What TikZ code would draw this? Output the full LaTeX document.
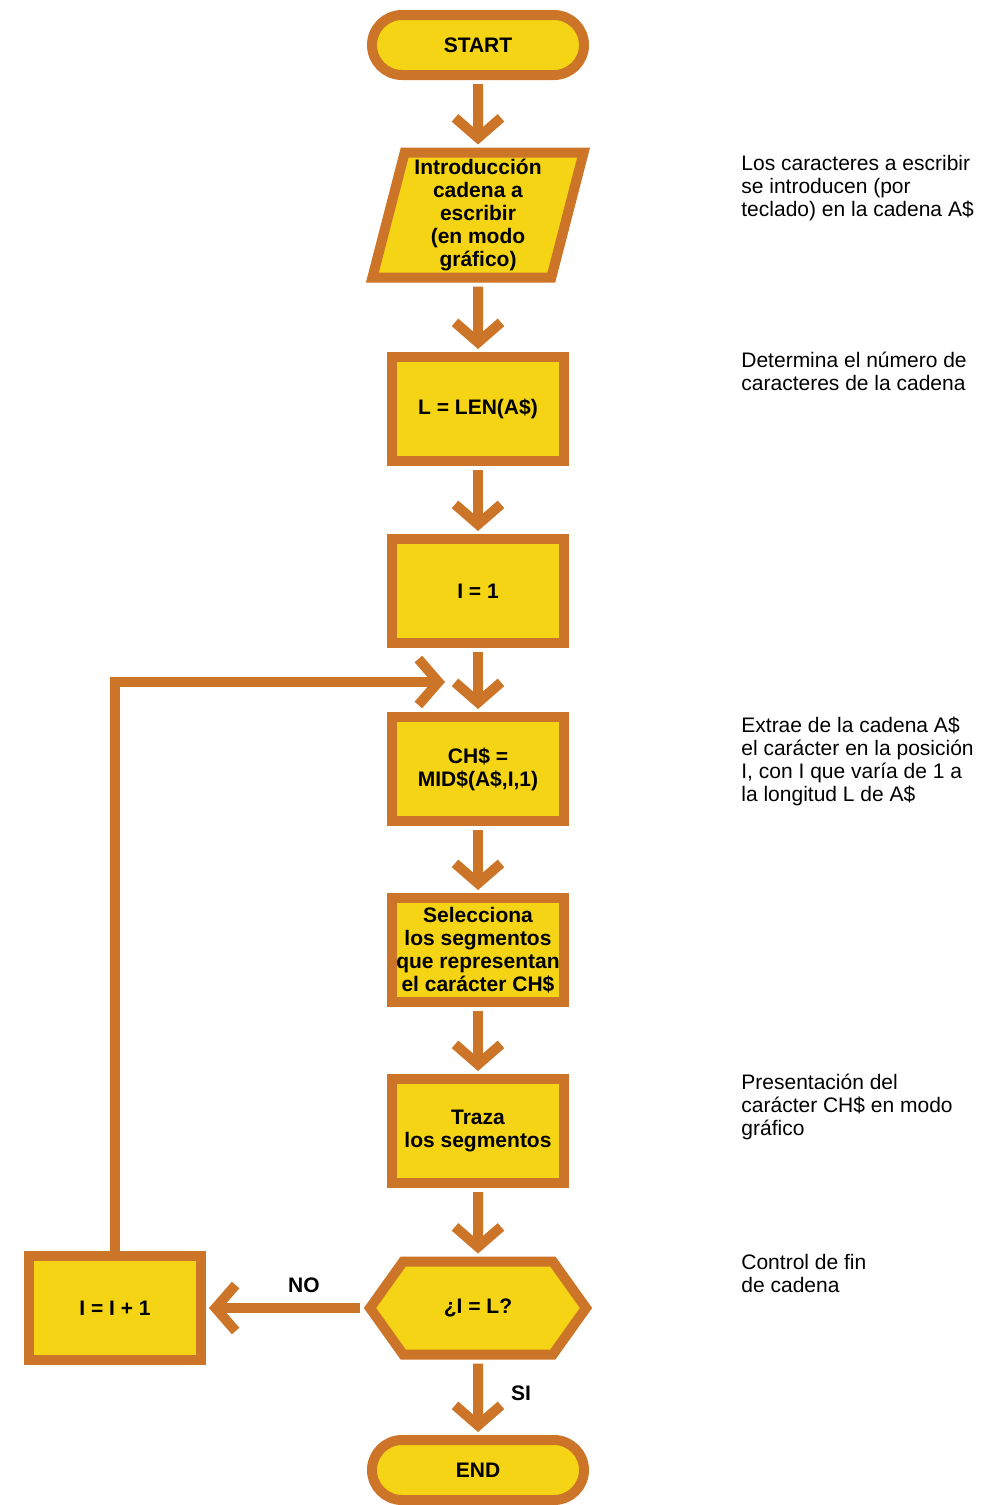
\documentclass[tikz,border=0pt]{standalone}
\usepackage{fontspec}
\setmainfont{Liberation Sans}
\usetikzlibrary{shapes.geometric, shapes.misc, shapes.symbols, arrows.meta, positioning}

\definecolor{boxfill}{RGB}{244,212,20}
\definecolor{boxline}{RGB}{204,116,40}

\begin{document}
\begin{tikzpicture}[
    x=0.5pt, y=-0.5pt,
    block/.style={rectangle, draw=boxline, line width=5pt, fill=boxfill, align=center, minimum width=86pt, minimum height=52pt, inner sep=1pt, font=\bfseries\fontsize{10.5}{11.5}\selectfont},
    term/.style={block, rounded rectangle, minimum width=108pt, minimum height=30pt},
    io/.style={block, trapezium, trapezium left angle=76, trapezium right angle=104, trapezium stretches=true, minimum width=106.5pt, minimum height=62.5pt},
    test/.style={block, signal, signal to=west and east, signal pointer angle=109, minimum width=108pt, minimum height=46.5pt},
    note/.style={anchor=north west, align=left, inner sep=0pt, font=\fontsize{10.5}{11.5}\selectfont},
    tag/.style={inner sep=0pt, font=\bfseries\fontsize{10.5}{11.5}\selectfont},
    line/.style={draw=boxline, line width=5pt, shorten <=2pt, shorten >=1.5pt, -{Straight Barb[length=10pt, width=23pt]}}
]
\useasboundingbox (0,0) rectangle (988,1505);

\node [term] (start) at (478,45) {START};
\node [io, below of=start, node distance=85pt] (input) {Introducción\\cadena a\\escribir\\(en modo\\gráfico)};
\node [block, below of=input, node distance=97pt] (len) {L = LEN(A\$)};
\node [block, below of=len, node distance=91pt] (init) {I = 1};
\node [block, below of=init, node distance=89pt] (extract) {CH\$ =\\MID\$(A\$,I,1)};
\node [block, below of=extract, node distance=90.5pt] (select) {Selecciona\\los segmentos\\que representan\\el carácter CH\$};
\node [block, below of=select, node distance=90.5pt] (trace) {Traza\\los segmentos};
\node [test, below of=trace, node distance=88.5pt] (check) {¿I = L?};
\node [term, below of=check, node distance=81pt] (finish) {END};
\node [block, left of=check, node distance=181.5pt] (incr) {I = I + 1};
\coordinate (loopin) at (448,682);

% comentarios a la derecha
\node [note] (noteinput) at (741,155) {Los caracteres a escribir\\se introducen (por\\teclado) en la cadena A\$};
\node [note] (notelen) at (741,352) {Determina el número de\\caracteres de la cadena};
\node [note] (noteextract) at (741,717) {Extrae de la cadena A\$\\el carácter en la posición\\I, con I que varía de 1 a\\la longitud L de A\$};
\node [note] (notetrace) at (741,1074) {Presentación del\\carácter CH\$ en modo\\gráfico};
\node [note] (notecheck) at (741,1254) {Control de fin\\de cadena};

\path [line] (start) -- (input);
\path [line] (input) -- (len);
\path [line] (len) -- (init);
\path [line] (init) -- (extract);
\path [line] (extract) -- (select);
\path [line] (select) -- (trace);
\path [line] (trace) -- (check);
\path [line] (check) -- node [tag, pos=0.45, right=14pt] {SI} (finish);
\path [line] (check.west) -- node [tag, pos=0.38, above=5pt] {NO} (incr.east);
\path [line, shorten <=0pt] (incr.north) |- (loopin);

\end{tikzpicture}
\end{document}
